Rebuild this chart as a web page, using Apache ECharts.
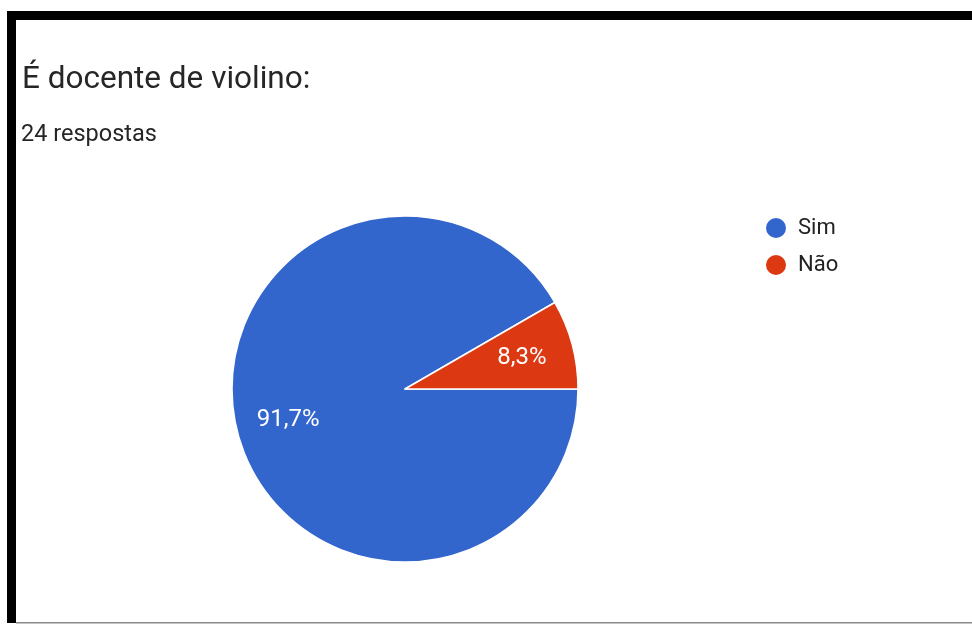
<!DOCTYPE html>
<html>
<head>
<meta charset="utf-8">
<script src="https://cdn.jsdelivr.net/npm/echarts@6/dist/echarts.min.js"></script>
<style>
html,body{margin:0;padding:0;background:#fff;}
#chart{width:972px;height:625px;}
</style>
</head>
<body>
<div id="chart"></div>
<script>
const categories = ['Sim', 'Não'];
const values = [22, 2];
const percentLabels = ['91,7%', '8,3%'];
const colors = ['#3366CC', '#DC3912'];
const titleText = 'É docente de violino:';
const subtitleText = '24 respostas';

const data = categories.map((c, i) => ({ name: c, value: values[i], label: { formatter: percentLabels[i] } }));

const chart = echarts.init(document.getElementById('chart'));
chart.setOption({
  animation: false,
  color: colors,
  title: [
    {
      text: titleText,
      left: 22,
      top: 63,
      padding: 0,
      textStyle: { fontFamily: 'Roboto', fontSize: 31.5, lineHeight: 35, fontWeight: 'normal', color: '#262626' }
    },
    {
      text: subtitleText,
      left: 21,
      top: 123,
      padding: 0,
      textStyle: { fontFamily: 'Roboto', fontSize: 23.5, lineHeight: 25, fontWeight: 'normal', color: '#262626' }
    }
  ],
  legend: {
    orient: 'vertical',
    left: 764,
    top: 216,
    padding: 0,
    icon: 'circle',
    itemWidth: 22,
    itemHeight: 22,
    itemGap: 13,
    textStyle: { fontFamily: 'Roboto', fontSize: 22, lineHeight: 22, color: '#222', padding: [0, 0, 0, 6] },
    data: categories
  },
  graphic: [
    { type: 'rect', shape: { x: 7, y: 11, width: 965, height: 9 }, style: { fill: '#000' }, z: 100 },
    { type: 'rect', shape: { x: 7, y: 11, width: 9, height: 612 }, style: { fill: '#000' }, z: 100 },
    { type: 'rect', shape: { x: 16, y: 622, width: 956, height: 1.5 }, style: { fill: '#888' }, z: 100 }
  ],
  series: [
    {
      type: 'pie',
      center: [405, 389],
      radius: [0, 173],
      startAngle: 0,
      clockwise: true,
      label: { show: false },
      labelLine: { show: false },
      itemStyle: { borderColor: '#fff', borderWidth: 1.5 },
      emphasis: { disabled: true },
      data: data
    },
    {
      type: 'pie',
      center: [405, 389],
      radius: [0, 236],
      startAngle: 0,
      clockwise: true,
      silent: true,
      itemStyle: { color: 'rgba(0,0,0,0)', borderWidth: 0 },
      label: { show: true, position: 'inside', fontFamily: 'Roboto', fontSize: 24, color: '#fff' },
      labelLine: { show: false },
      emphasis: { disabled: true },
      data: data
    }
  ]
});
</script>
</body>
</html>
